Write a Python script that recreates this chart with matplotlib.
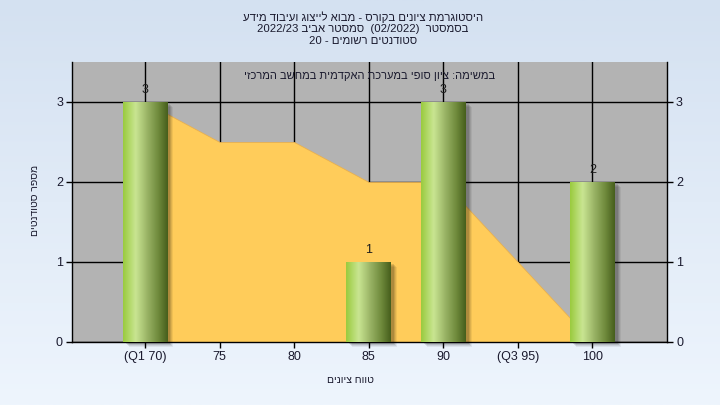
import numpy as np
import matplotlib
matplotlib.use("Agg")
import matplotlib.pyplot as plt
import matplotlib.transforms as mtransforms
from matplotlib.colors import LinearSegmentedColormap
from matplotlib.patches import Rectangle

plt.rcParams['font.family'] = ['Liberation Sans', 'DejaVu Sans']

# ---------------- data ----------------
categories = ["(Q1 70)", "75", "80", "85", "90", "(Q3 95)", "100"]
counts = [3, 0, 0, 1, 3, 0, 2]
trend = [3, 2.5, 2.5, 2, 2, 1, 0]
y_ticks = [0, 1, 2, 3]

title_lines = [
    "היסטוגרמת ציונים בקורס - מבוא לייצוג ועיבוד מידע",
    "בסמסטר  (02/2022)  סמסטר אביב 2022/23",
    "סטודנטים רשומים - 20",
]
subtitle = "במשימה: ציון סופי במערכת האקדמית במחשב המרכזי"
x_label = "טווח ציונים"
y_label = "מספר סטודנטים"


# -------- simple right-to-left visual ordering (matplotlib draws LTR) --------
def is_heb(c):
    return '\u0590' <= c <= '\u05FF'


def visual(s):
    types = []
    for c in s:
        if is_heb(c):
            types.append('R')
        elif c.isascii() and c.isalnum():
            types.append('L')
        else:
            types.append('N')
    n = len(s)
    res = list(types)
    for i in range(n):
        if types[i] == 'N':
            p = next((types[j] for j in range(i - 1, -1, -1) if types[j] != 'N'), 'R')
            q = next((types[j] for j in range(i + 1, n) if types[j] != 'N'), 'R')
            res[i] = 'L' if (p == 'L' and q == 'L') else 'R'
    mirror = {'(': ')', ')': '(', '[': ']', ']': '['}
    runs = []
    i = 0
    while i < n:
        j = i
        while j < n and res[j] == res[i]:
            j += 1
        seg = s[i:j]
        if res[i] == 'R':
            seg = ''.join(mirror.get(c, c) for c in seg[::-1])
        runs.append(seg)
        i = j
    return ''.join(runs[::-1])


# ---------------- figure ----------------
W, H = 720, 405
fig = plt.figure(figsize=(W / 100, H / 100), dpi=100)

bg = fig.add_axes([0, 0, 1, 1], zorder=-10)
bg_cmap = LinearSegmentedColormap.from_list('bg', ['#eef5fd', '#d4e1f1'])
bg.imshow(np.linspace(0, 1, 256).reshape(-1, 1)[::-1], aspect='auto',
          cmap=bg_cmap, extent=[0, 1, 0, 1])
bg.axis('off')

ax = fig.add_axes([72 / W, (H - 342) / H, 595 / W, 280 / H])
ax.set_facecolor('#b3b3b3')

x = np.arange(len(categories))
bar_w = 0.6

ax.set_axisbelow(True)
ax.grid(True, color='black', lw=1.0)

# trend area
ax.fill_between(x, trend, 0, color='#ffcc5a', lw=0.6, edgecolor='#e8b050', zorder=1)

# bars with shadows and cylinder gradient
bar_cmap = LinearSegmentedColormap.from_list(
    'bar', [(0.0, '#9acb3e'), (0.28, '#c9e592'), (0.55, '#98b264'),
            (0.8, '#6d883a'), (1.0, '#465e1c')])
grad = np.linspace(0, 1, 128).reshape(1, -1)
for xi, v in zip(x, counts):
    if v <= 0:
        continue
    for dx, a in [(6, 0.06), (5, 0.08), (4, 0.1), (3, 0.12)]:
        tr = mtransforms.offset_copy(ax.transData, fig=fig, x=dx, y=-dx + 1, units='dots')
        ax.add_patch(Rectangle((xi - bar_w / 2, 0), bar_w, v, transform=tr,
                               facecolor='black', alpha=a, lw=0, zorder=2, clip_on=False))
    ax.imshow(grad, aspect='auto', cmap=bar_cmap, interpolation='bicubic',
              extent=[xi - bar_w / 2, xi + bar_w / 2, 0, v], zorder=3)
    ax.text(xi, v + 0.07, str(v), ha='center', va='bottom', fontsize=9,
            color='#1c1c1c', zorder=5)

ax.set_xlim(-0.98, 7.0)
ax.set_ylim(0, 3.5)
ax.set_xticks(x)
ax.set_xticklabels(categories)
ax.set_yticks(y_ticks)
ax.tick_params(axis='both', direction='out', length=4, width=1, color='black',
               labelsize=9, labelcolor='#1a1a2e', pad=2.5)
ax.tick_params(axis='y', right=True, labelright=True)
for side in ['left', 'right', 'bottom']:
    ax.spines[side].set_color('black')
    ax.spines[side].set_linewidth(1)
ax.spines['top'].set_visible(False)

ax.text(0.5, (342 - 76) / 280, visual(subtitle), transform=ax.transAxes,
        ha='center', va='center', fontsize=8, color='#1a1a2e', zorder=6)

# titles
for yc, line in zip([17.5, 29, 40.5], title_lines):
    fig.text(363 / W, 1 - yc / H, visual(line), ha='center', va='center',
             fontsize=8.2, color='#1a1a2e')

fig.text(350 / W, 1 - 380 / H, visual(x_label), ha='center', va='center',
         fontsize=7.5, color='#1a1a2e')
fig.text(35 / W, 1 - 200 / H, visual(y_label), ha='center', va='center',
         rotation=90, fontsize=7.5, color='#1a1a2e')

fig.savefig('out.png', dpi=100)
